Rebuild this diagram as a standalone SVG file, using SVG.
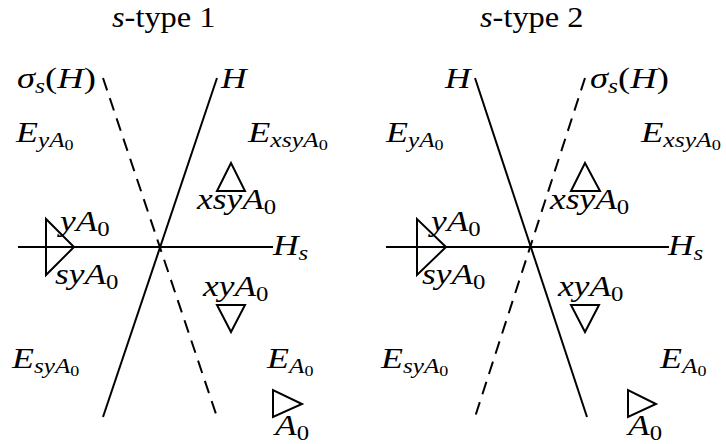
<svg xmlns="http://www.w3.org/2000/svg" width="726" height="444" viewBox="0 0 726 444">
<style>
.ln{stroke:#000;stroke-width:2;fill:none}
.ds{stroke-dasharray:13 8.3}
.tri{stroke:#000;stroke-width:2;fill:none;stroke-linejoin:miter}
text{font-family:'Liberation Serif','DejaVu Serif',serif;font-size:30px;fill:#000}
.m{font-style:italic}
.r{font-style:normal}
.s1{font-size:21px}
.s2{font-size:15px}
</style>
<rect width="726" height="444" fill="#fff"/>
<g id="panel-1">
  <text id="title-1" transform="translate(112,27) scale(1.08,1)"><tspan class="m">s</tspan>-type 1</text>
  <g id="connectors-1">
    <line class="ln" x1="217" y1="78" x2="103" y2="417"/>
    <line class="ln ds" x1="103" y1="78" x2="217" y2="417"/>
    <line class="ln" x1="18" y1="247" x2="273" y2="247"/>
  </g>
  <g id="triangles-1">
    <polygon class="tri" points="46,219 46,275 74,247"/>
    <polygon class="tri" points="231,163 217,191 245,191"/>
    <polygon class="tri" points="217,305 245,305 231,332"/>
    <polygon class="tri" points="273,390 273,417 302,404"/>
  </g>
  <g id="labels-1">
    <text class="m" transform="translate(17,88) scale(1.22,1)">σ<tspan class="s1" dy="4.5">s</tspan><tspan class="r" dy="-4.5">(</tspan>H<tspan class="r">)</tspan></text>
    <text class="m" transform="translate(221,88) scale(1.18,1)">H</text>
    <text class="m" transform="translate(16,142) scale(1.2,1)">E<tspan class="s1" dy="4.5">yA</tspan><tspan class="s2 r" dy="3">0</tspan></text>
    <text class="m" transform="translate(248,142) scale(1.22,1)">E<tspan class="s1" dy="4.5">xsyA</tspan><tspan class="s2 r" dy="3">0</tspan></text>
    <text class="m" transform="translate(197,209) scale(1.18,1)">xsyA<tspan class="s1 r" dy="4.5">0</tspan></text>
    <text class="m" transform="translate(60,231) scale(1.18,1)">yA<tspan class="s1 r" dy="4.5">0</tspan></text>
    <text class="m" transform="translate(55,284) scale(1.18,1)">syA<tspan class="s1 r" dy="4.5">0</tspan></text>
    <text class="m" transform="translate(273,255) scale(1.18,1)">H<tspan class="s1" dy="4.5">s</tspan></text>
    <text class="m" transform="translate(203,296) scale(1.18,1)">xyA<tspan class="s1 r" dy="4.5">0</tspan></text>
    <text class="m" transform="translate(12,368) scale(1.2,1)">E<tspan class="s1" dy="4.5">syA</tspan><tspan class="s2 r" dy="3">0</tspan></text>
    <text class="m" transform="translate(267,368) scale(1.2,1)">E<tspan class="s1" dy="4.5">A</tspan><tspan class="s2 r" dy="3">0</tspan></text>
    <text class="m" transform="translate(275,435) scale(1.18,1)">A<tspan class="s1 r" dy="4.5">0</tspan></text>
  </g>
</g>
<g id="panel-2">
  <text id="title-2" transform="translate(480,27) scale(1.08,1)"><tspan class="m">s</tspan>-type 2</text>
  <g id="connectors-2">
    <line class="ln" x1="475" y1="78" x2="587" y2="417"/>
    <line class="ln ds" x1="585" y1="78" x2="475" y2="417"/>
    <line class="ln" x1="386" y1="247" x2="669" y2="247"/>
  </g>
  <g id="triangles-2">
    <polygon class="tri" points="417,219 417,275 446,247"/>
    <polygon class="tri" points="585,163 571,191 600,191"/>
    <polygon class="tri" points="571,305 599,305 585,332"/>
    <polygon class="tri" points="628,390 628,417 656,404"/>
  </g>
  <g id="labels-2">
    <text class="m" transform="translate(445,88) scale(1.18,1)">H</text>
    <text class="m" transform="translate(590,88) scale(1.22,1)">σ<tspan class="s1" dy="4.5">s</tspan><tspan class="r" dy="-4.5">(</tspan>H<tspan class="r">)</tspan></text>
    <text class="m" transform="translate(386,142) scale(1.2,1)">E<tspan class="s1" dy="4.5">yA</tspan><tspan class="s2 r" dy="3">0</tspan></text>
    <text class="m" transform="translate(641,142) scale(1.22,1)">E<tspan class="s1" dy="4.5">xsyA</tspan><tspan class="s2 r" dy="3">0</tspan></text>
    <text class="m" transform="translate(550,209) scale(1.18,1)">xsyA<tspan class="s1 r" dy="4.5">0</tspan></text>
    <text class="m" transform="translate(431,231) scale(1.18,1)">yA<tspan class="s1 r" dy="4.5">0</tspan></text>
    <text class="m" transform="translate(422,284) scale(1.18,1)">syA<tspan class="s1 r" dy="4.5">0</tspan></text>
    <text class="m" transform="translate(668,255) scale(1.18,1)">H<tspan class="s1" dy="4.5">s</tspan></text>
    <text class="m" transform="translate(558,296) scale(1.18,1)">xyA<tspan class="s1 r" dy="4.5">0</tspan></text>
    <text class="m" transform="translate(381,368) scale(1.2,1)">E<tspan class="s1" dy="4.5">syA</tspan><tspan class="s2 r" dy="3">0</tspan></text>
    <text class="m" transform="translate(660,368) scale(1.2,1)">E<tspan class="s1" dy="4.5">A</tspan><tspan class="s2 r" dy="3">0</tspan></text>
    <text class="m" transform="translate(628,435) scale(1.18,1)">A<tspan class="s1 r" dy="4.5">0</tspan></text>
  </g>
</g>
</svg>
